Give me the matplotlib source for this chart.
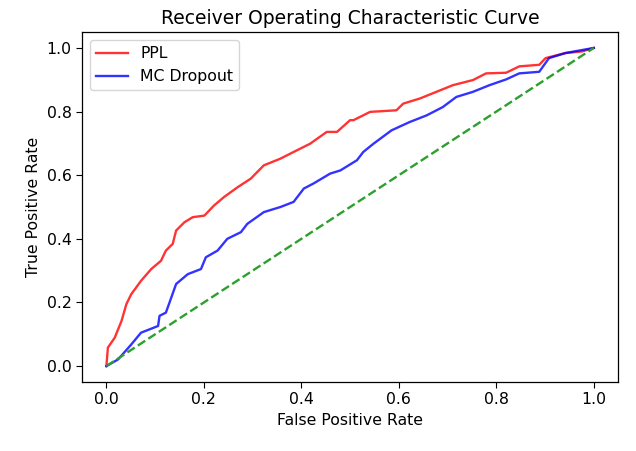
import matplotlib
matplotlib.use("Agg")
import matplotlib.pyplot as plt

# ROC points
ppl_fpr = [0.0, 0.003, 0.017, 0.031, 0.041, 0.051, 0.071, 0.092, 0.112, 0.122,
           0.136, 0.143, 0.160, 0.177, 0.201, 0.221, 0.241, 0.269, 0.296, 0.323,
           0.357, 0.384, 0.418, 0.452, 0.473, 0.500, 0.507, 0.541, 0.595, 0.609,
           0.643, 0.677, 0.711, 0.752, 0.779, 0.820, 0.847, 0.888, 0.901, 0.942,
           0.976, 1.0]
ppl_tpr = [0.0, 0.058, 0.089, 0.142, 0.195, 0.226, 0.268, 0.305, 0.331, 0.363,
           0.384, 0.426, 0.452, 0.468, 0.473, 0.505, 0.531, 0.562, 0.589, 0.631,
           0.652, 0.673, 0.699, 0.736, 0.736, 0.773, 0.773, 0.799, 0.804, 0.825,
           0.841, 0.862, 0.883, 0.899, 0.920, 0.922, 0.942, 0.947, 0.968, 0.984,
           0.989, 1.0]

mc_fpr = [0.0, 0.024, 0.051, 0.071, 0.106, 0.109, 0.122, 0.133, 0.143, 0.167,
          0.194, 0.204, 0.228, 0.248, 0.276, 0.289, 0.323, 0.357, 0.384, 0.405,
          0.425, 0.459, 0.480, 0.514, 0.527, 0.548, 0.585, 0.622, 0.657, 0.690,
          0.718, 0.752, 0.786, 0.820, 0.847, 0.888, 0.908, 0.942, 1.0]
mc_tpr = [0.0, 0.021, 0.068, 0.105, 0.126, 0.158, 0.168, 0.215, 0.258, 0.289,
          0.305, 0.342, 0.363, 0.400, 0.421, 0.447, 0.484, 0.500, 0.516, 0.558,
          0.574, 0.605, 0.615, 0.647, 0.673, 0.699, 0.741, 0.767, 0.788, 0.814,
          0.846, 0.862, 0.883, 0.901, 0.920, 0.925, 0.968, 0.984, 1.0]

chance = [0.0, 1.0]

# reference looks like a default figure scaled up ~1.13x
plt.rcParams["font.size"] = 11.3
plt.rcParams["xtick.major.size"] = 4
plt.rcParams["ytick.major.size"] = 4
plt.rcParams["axes.linewidth"] = 0.9

fig = plt.figure(figsize=(6.36, 4.51), dpi=100)
ax = fig.add_axes([0.129, 0.153, 0.843, 0.776])
ax.plot(ppl_fpr, ppl_tpr, color="red", alpha=0.8, lw=1.7, label="PPL")
ax.plot(mc_fpr, mc_tpr, color="blue", alpha=0.8, lw=1.7, label="MC Dropout")
ax.plot(chance, chance, "--", color="#2ca02c", lw=1.7)
ax.set_title("Receiver Operating Characteristic Curve", fontsize=13.5)
ax.set_xlabel("False Positive Rate")
ax.set_ylabel("True Positive Rate")
ax.legend(loc="upper left")
fig.savefig("out.png", dpi=100)
